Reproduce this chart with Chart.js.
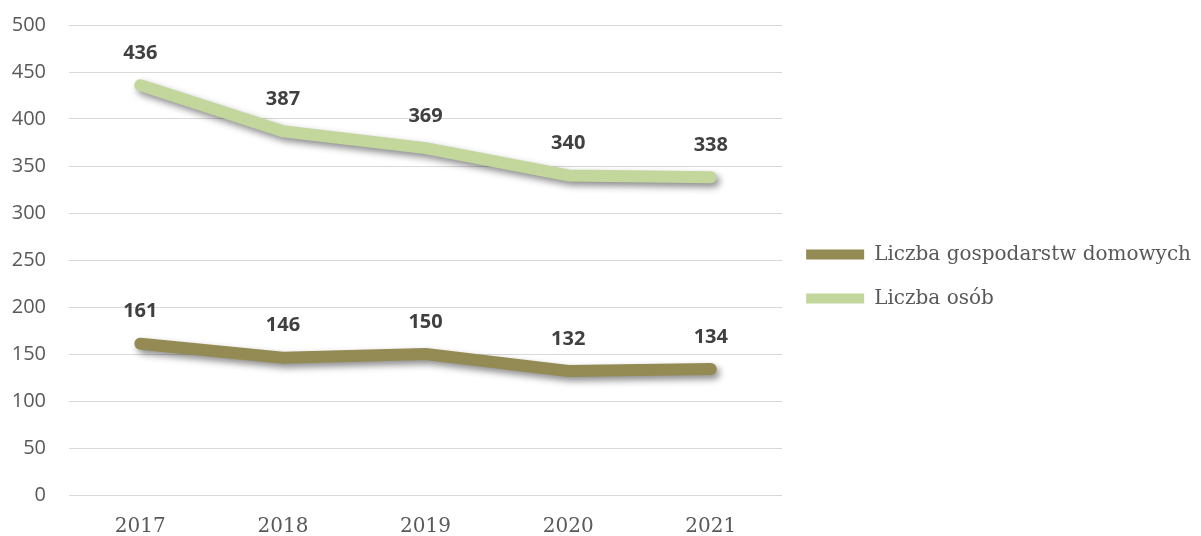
<!DOCTYPE html>
<html>
<head>
<meta charset="utf-8">
<script src="https://cdn.jsdelivr.net/npm/chart.js@4/dist/chart.umd.min.js"></script>
<style>
  html, body { margin: 0; padding: 0; background: #fff; }
  #wrap { width: 1201px; height: 536px; }
</style>
</head>
<body>
<div id="wrap"><canvas id="lineChart" width="1201" height="536"></canvas></div>
<script>
// ===== Data =====
const years = ['2017', '2018', '2019', '2020', '2021'];
const households = [161, 146, 150, 132, 134];
const persons = [436, 387, 369, 340, 338];
const seriesNames = ['Liczba gospodarstw domowych', 'Liczba osób'];
const yTicks = [0, 50, 100, 150, 200, 250, 300, 350, 400, 450, 500];

// ===== Plugins =====
// soft shadow under the thick lines
const lineShadow = {
    id: 'lineShadow',
    beforeDatasetDraw(chart) {
        const ctx = chart.ctx;
        ctx.save();
        ctx.shadowColor = 'rgba(0,0,0,0.45)';
        ctx.shadowBlur = 7;
        ctx.shadowOffsetX = 3;
        ctx.shadowOffsetY = 4;
    },
    afterDatasetDraw(chart) {
        chart.ctx.restore();
    }
};

// value labels above each point
const valueLabels = {
    id: 'valueLabels',
    afterDatasetsDraw(chart) {
        const ctx = chart.ctx;
        ctx.save();
        ctx.font = 'bold 20px "Open Sans"';
        ctx.fillStyle = '#404040';
        ctx.textAlign = 'center';
        ctx.textBaseline = 'middle';
        chart.data.datasets.forEach((ds, i) => {
            chart.getDatasetMeta(i).data.forEach((pt, j) => {
                ctx.fillText(ds.data[j], pt.x, pt.y - 32);
            });
        });
        ctx.restore();
    }
};

// ===== Chart =====
new Chart(document.getElementById('lineChart'), {
    type: 'line',
    data: {
        labels: years,
        datasets: [{
            label: seriesNames[0],
            data: households,
            borderColor: '#948A54',
            backgroundColor: '#948A54',
            borderWidth: 12,
            borderCapStyle: 'round',
            borderJoinStyle: 'round',
            pointRadius: 0,
            tension: 0
        }, {
            label: seriesNames[1],
            data: persons,
            borderColor: '#C3D69B',
            backgroundColor: '#C3D69B',
            borderWidth: 12,
            borderCapStyle: 'round',
            borderJoinStyle: 'round',
            pointRadius: 0,
            tension: 0
        }]
    },
    options: {
        responsive: false,
        animation: false,
        layout: { padding: { left: 10, right: 0, top: 25, bottom: 0 } },
        plugins: {
            tooltip: { enabled: false },
            legend: {
                position: 'right',
                maxWidth: 450,
                title: { display: true, text: ' ', font: { size: 1 }, padding: { top: -5, bottom: -4 } },
                labels: {
                    boxWidth: 58,
                    boxHeight: 10,
                    useBorderRadius: true,
                    borderRadius: 5,
                    padding: 24,
                    color: '#595959',
                    font: { family: '"DejaVu Serif"', size: 20 },
                    generateLabels(chart) {
                        return chart.data.datasets.map((ds, i) => ({
                            text: ds.label,
                            fillStyle: ds.borderColor,
                            strokeStyle: ds.borderColor,
                            lineWidth: 0,
                            fontColor: '#595959',
                            datasetIndex: i
                        }));
                    }
                }
            }
        },
        scales: {
            x: {
                offset: true,
                grid: { display: false },
                border: { display: false },
                afterFit(scale) { scale.height = 41; },
                ticks: {
                    color: '#595959',
                    padding: 12,
                    font: { family: '"DejaVu Serif"', size: 20 }
                }
            },
            y: {
                min: 0,
                max: 500,
                afterBuildTicks(axis) {
                    axis.ticks = yTicks.map(v => ({ value: v }));
                },
                afterFit(scale) {
                    scale.width = 59;
                    scale.paddingTop = 0;
                    scale.paddingBottom = 0;
                },
                grid: { color: '#D9D9D9', lineWidth: 1, drawTicks: false },
                border: { display: false },
                ticks: {
                    color: '#595959',
                    padding: 23,
                    font: { family: '"Open Sans"', size: 20 }
                }
            }
        }
    },
    plugins: [lineShadow, valueLabels]
});
</script>
</body>
</html>
